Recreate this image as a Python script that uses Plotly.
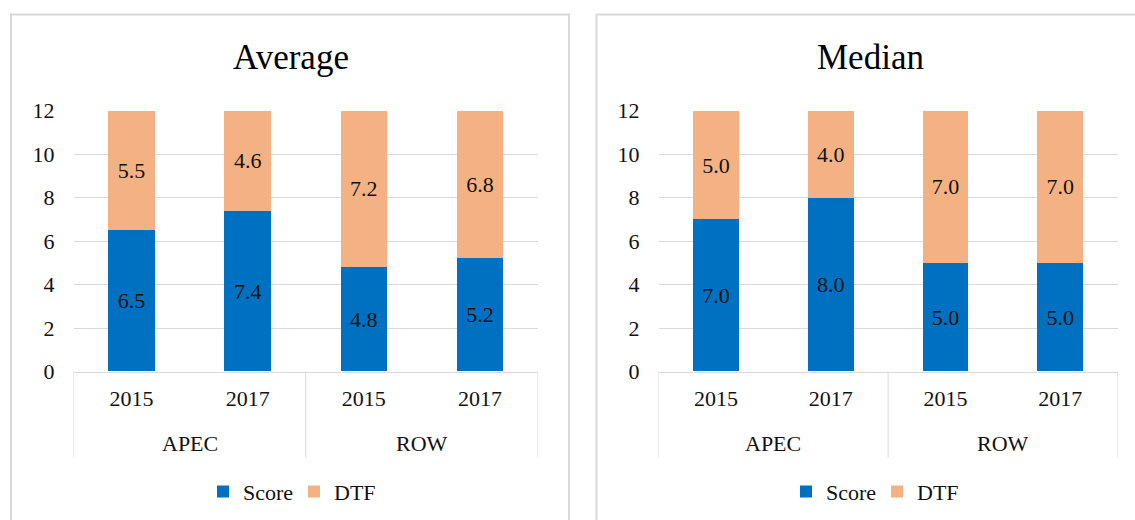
import plotly.graph_objects as go

# ---- data ----
groups = ["APEC", "APEC", "ROW", "ROW"]
years = ["2015", "2017", "2015", "2017"]
avg_score = [6.5, 7.4, 4.8, 5.2]
avg_dtf = [5.5, 4.6, 7.2, 6.8]
med_score = [7.0, 8.0, 5.0, 5.0]
med_dtf = [5.0, 4.0, 7.0, 7.0]
titles = ["Average", "Median"]
y_ticks = [0, 2, 4, 6, 8, 10, 12]

W, H = 1135, 520
FONT = "Liberation Serif, Times New Roman, serif"
BLUE = "#0070C0"
ORANGE = "#F4B183"
GRID = "#d9d9d9"
TXT = "#111111"


def px(x):
    return x / W


def py(y):
    return (H - y) / H


# category keys (one per bar) and their tick texts
cats = [f"{g} {y}" for g, y in zip(groups, years)]
group_names = list(dict.fromkeys(groups))
group_idx = {g: [i for i, gg in enumerate(groups) if gg == g] for g in group_names}

fig = go.Figure()

panels = [
    (avg_score, avg_dtf, "x", "y", "legend"),
    (med_score, med_dtf, "x2", "y2", "legend2"),
]
for score, dtf, xa, ya, lg in panels:
    for vals, name, col in [(score, "Score", BLUE), (dtf, "DTF", ORANGE)]:
        fig.add_trace(go.Bar(
            x=cats, y=vals, name=name, marker=dict(color=col, line=dict(width=0)),
            xaxis=xa, yaxis=ya, legend=lg,
            texttemplate="%{y:.1f}", textposition="inside", insidetextanchor="middle",
            textangle=0, textfont=dict(family=FONT, size=22, color=TXT),
            hoverinfo="skip",
        ))

Y0, Y12 = 371.5, 110.7
ydom = [py(Y0), py(Y12)]
xcommon = dict(
    type="category", categoryorder="array", categoryarray=cats,
    tickvals=cats, ticktext=years, range=[-0.5, len(cats) - 0.5],
    showline=True, linecolor=GRID, linewidth=1, showgrid=False, zeroline=False,
    tickfont=dict(family=FONT, size=22, color=TXT), ticks="", ticklabelstandoff=7,
    fixedrange=True, automargin=False,
)
ycommon = dict(
    range=[0, 12], tickvals=y_ticks, showgrid=True, gridcolor=GRID, gridwidth=1,
    showline=False, zeroline=False, ticks="", ticklabelstandoff=18,
    tickfont=dict(family=FONT, size=22, color=TXT), fixedrange=True, automargin=False,
)

legcommon = dict(orientation="h", xanchor="center", yanchor="middle", traceorder="normal",
                 entrywidth=46, entrywidthmode="pixels",
                 font=dict(family=FONT, size=22, color=TXT), bgcolor="rgba(0,0,0,0)")

fig.update_layout(
    template="none",
    width=W, height=H, autosize=False,
    margin=dict(l=0, r=0, t=0, b=0, pad=0, autoexpand=False),
    paper_bgcolor="white", plot_bgcolor="white",
    barmode="stack", bargap=0.6,
    font=dict(family=FONT, color=TXT, size=22),
    xaxis=dict(domain=[px(73.5), px(538)], anchor="y", **xcommon),
    yaxis=dict(domain=ydom, anchor="x", **ycommon),
    xaxis2=dict(domain=[px(658.5), px(1117.7)], anchor="y2", **xcommon),
    yaxis2=dict(domain=ydom, anchor="x2", **ycommon),
    legend=dict(x=px(294), y=py(491.7), **legcommon),
    legend2=dict(x=px(877), y=py(491.7), **legcommon),
    showlegend=True,
)

# group labels and divider lines of the two-level category axis
for xr in ["x", "x2"]:
    for g in group_names:
        idx = group_idx[g]
        fig.add_annotation(text=g, xref=xr, yref="paper", x=sum(idx) / len(idx), y=py(443),
                           xanchor="center", yanchor="middle", showarrow=False,
                           font=dict(family=FONT, size=22, color=TXT))
    bounds = [-0.5] + [group_idx[g][-1] + 0.5 for g in group_names]
    for b in bounds:
        fig.add_shape(type="line", xref=xr, yref="paper", x0=b, x1=b,
                      y0=py(Y0), y1=py(457.5), line=dict(color=GRID, width=1))

# panel titles
for title, cx in zip(titles, [291, 871]):
    fig.add_annotation(text=title, xref="paper", yref="paper", x=px(cx), y=py(57),
                       xanchor="center", yanchor="middle", showarrow=False,
                       font=dict(family=FONT, size=35, color="#000000"))

# chart-area borders
fig.add_shape(type="rect", xref="paper", yref="paper",
              x0=px(11), x1=px(569), y0=-0.05, y1=py(14.5),
              line=dict(color=GRID, width=2), layer="below")
fig.add_shape(type="rect", xref="paper", yref="paper",
              x0=px(596.5), x1=1.03, y0=-0.05, y1=py(14.5),
              line=dict(color=GRID, width=2), layer="below")

fig.write_html("out.html", config={"displayModeBar": False},
               post_script="document.body.style.margin='0px';")
